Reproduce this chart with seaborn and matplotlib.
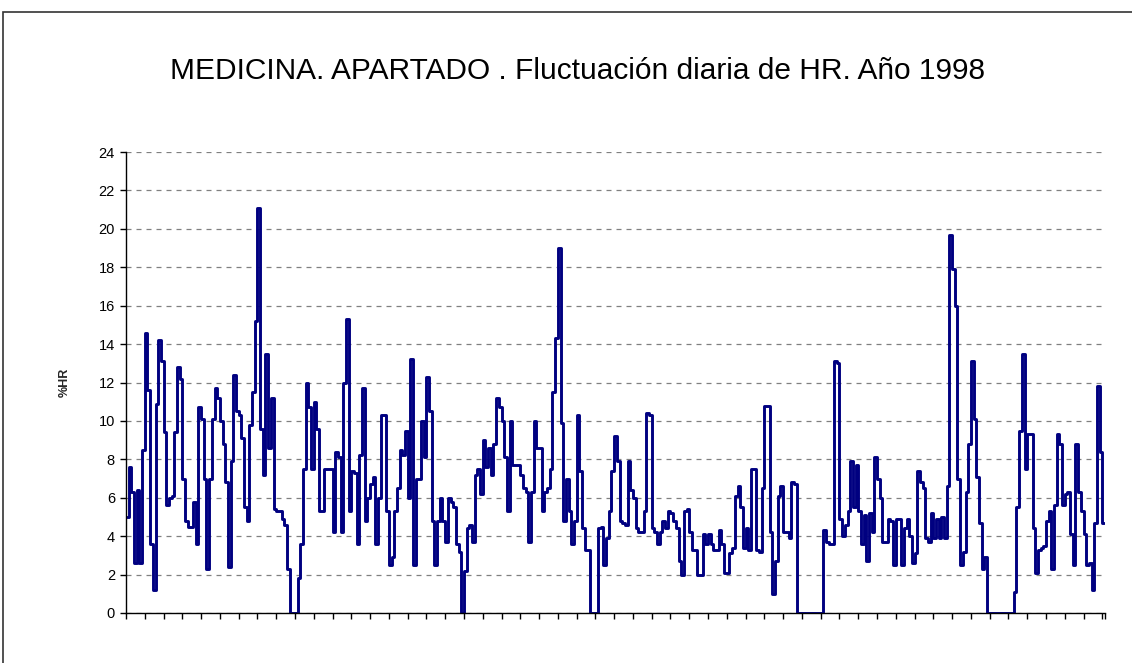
import numpy as np
import pandas as pd
import matplotlib
matplotlib.use("Agg")
import matplotlib.pyplot as plt
import seaborn as sns
from matplotlib.patches import Rectangle

# Daily values of zHR, 1998
hr_seg1 = [5.0, 7.6, 6.3, 2.6, 6.4, 2.6, 8.5, 14.6, 11.6, 3.6,
           1.2, 10.9, 14.2, 13.1, 9.4, 5.6, 6.0, 6.1, 9.4, 12.8,
           12.2, 7.0, 4.8, 4.5, 4.5, 5.8, 3.6, 10.7, 10.1, 7.0,
           2.3, 7.0, 10.1, 11.7, 11.2, 10.0, 8.8, 6.8, 2.4, 7.9,
           12.4, 10.5, 10.3, 9.1, 5.5, 4.8, 9.8, 11.5, 15.2, 21.1,
           9.6, 7.2, 13.5, 8.6, 11.2, 5.4, 5.3, 5.3, 4.9, 4.6,
           2.3, 0, 0, 0, 1.8, 3.6, 7.5, 12.0, 10.7, 7.5,
           11.0, 9.6]
hr_seg2 = [5.3, 5.3, 7.5, 7.5, 7.5, 4.2, 8.4, 8.1, 4.2, 12.0,
           15.3, 5.3, 7.4, 7.3, 3.6, 8.2, 11.7, 4.8, 6.0, 6.7,
           7.1, 3.6, 6.0, 10.3, 10.3, 5.3, 2.5, 2.9, 5.3, 6.5,
           8.5, 8.2, 9.5, 6.0, 13.2, 2.5, 7.0, 7.0, 10.0, 8.1,
           12.3, 10.5, 4.8, 2.5, 4.8, 6.0, 4.8, 3.7, 6.0, 5.8,
           5.5, 3.6, 3.2, 0, 2.2, 4.4, 4.6, 3.7, 7.2, 7.5,
           6.2, 9.0, 7.6, 8.6, 7.2, 8.8, 11.2, 10.7, 10.0, 8.1,
           5.3, 10.0, 7.7]
hr_seg3 = [7.7, 7.7, 7.2, 6.5, 6.3, 3.7, 6.3, 10.0, 8.6, 8.6,
           5.3, 6.3, 6.5, 7.5, 11.5, 14.3, 19.0, 9.9, 4.8, 7.0,
           5.3, 3.6, 4.8, 10.3, 7.4, 4.4, 3.3, 3.3, 0, 0,
           0, 4.4, 4.5, 2.5, 3.9, 5.3, 7.4, 9.2, 7.9, 4.8,
           4.7, 4.6, 7.9, 6.4, 6.0, 4.4, 4.2, 4.2, 5.3, 10.4,
           10.3, 4.4, 4.2, 3.6, 4.2, 4.8, 4.4, 5.3, 5.2, 4.8,
           4.4, 2.7, 2.0, 5.3, 5.4, 4.2, 3.3, 3.3, 2.0, 2.0,
           4.1, 3.6]
hr_seg4 = [4.1, 3.6, 3.3, 3.3, 4.3, 3.6, 2.1, 2.1, 3.1, 3.4,
           6.1, 6.6, 5.5, 3.4, 4.4, 3.3, 7.5, 7.5, 3.3, 3.2,
           6.5, 10.8, 10.8, 4.2, 1.0, 2.7, 6.1, 6.6, 4.2, 4.2,
           3.9, 6.8, 6.7, 0, 0, 0, 0, 0, 0, 0,
           0, 0, 0, 4.3, 3.7, 3.6, 3.6, 13.1, 13.0, 4.9,
           4.0, 4.6, 5.3, 7.9, 5.5, 7.7, 5.3, 3.6, 5.1, 2.7,
           5.2, 4.2, 8.1, 7.0, 6.0, 3.7, 3.7, 4.9, 4.8, 2.5,
           4.9, 4.9, 2.5, 4.4]
hr_seg5 = [4.9, 4.0, 2.6, 3.1, 7.4, 6.8, 6.5, 3.9, 3.7, 5.2,
           3.9, 4.9, 3.9, 5.0, 3.9, 6.6, 19.7, 17.9, 16.0, 7.0,
           2.5, 3.2, 6.3, 8.8, 13.1, 10.1, 7.1, 4.7, 2.3, 2.9,
           0, 0, 0, 0, 0, 0, 0, 0, 0, 0,
           1.1, 5.5, 9.5, 13.5, 7.5, 9.3, 9.3, 4.4, 2.1, 3.3,
           3.4, 3.5, 4.8, 5.3, 2.3, 5.6, 9.3, 8.8, 5.6, 6.2,
           6.3, 4.1, 2.5, 8.8, 6.3, 5.3, 4.1, 2.5, 2.6, 1.2,
           4.7, 11.8, 8.4, 4.7]

y_ticks = [0, 2, 4, 6, 8, 10, 12, 14, 16, 18, 20, 22, 24]
title_text = "MEDICINA. APARTADO . Fluctuación diaria de HR. Año 1998"
ylabel_text = "%HR"

values = hr_seg1 + hr_seg2 + hr_seg3 + hr_seg4 + hr_seg5
df = pd.DataFrame({"dia": np.arange(len(values)), "hr": values})

sns.set_theme(style="white")
plt.rcParams["font.family"] = ["Liberation Sans", "DejaVu Sans"]

W, H = 1132, 663
fig = plt.figure(figsize=(W / 100, H / 100), dpi=100)
fig.patch.set_facecolor("white")

# outer chart border
fig.patches.append(Rectangle((3 / W, -0.05), 1.2, 1 - 12 / H + 0.05,
                             transform=fig.transFigure, fill=False,
                             edgecolor="#333333", linewidth=1.2))

ax = fig.add_axes([126 / W, 1 - 613 / H, (1105 - 126) / W, (613 - 152) / H])
ax.set_facecolor("white")

sns.lineplot(data=df, x="dia", y="hr", ax=ax, color="#000080",
             linewidth=2.1, legend=False, drawstyle="steps-mid")

n = len(values)
ax.set_xlim(-0.5, n - 0.5)
ax.set_ylim(0, 24)
ax.set_yticks(y_ticks)
ax.set_yticklabels([str(t) for t in y_ticks], fontsize=10.5, color="black")
xt = list(np.arange(-0.5, n - 0.5, 7)) + [n - 0.5]
ax.set_xticks(xt)
ax.set_xticklabels([])
ax.tick_params(axis="x", direction="out", length=4, width=1, color="black", bottom=True)
ax.tick_params(axis="y", direction="out", length=4, width=1, color="black", left=True, pad=4)

ax.yaxis.grid(True, linestyle=(0, (4, 4)), color="#808080", linewidth=0.9)
ax.xaxis.grid(False)
for s in ["top", "right"]:
    ax.spines[s].set_visible(False)
for s in ["left", "bottom"]:
    ax.spines[s].set_color("black")
    ax.spines[s].set_linewidth(1.0)

ax.set_xlabel("")
ax.set_ylabel(ylabel_text, fontsize=9, fontweight="bold", labelpad=20)

fig.text(577 / W, 1 - 71 / H, title_text, ha="center", va="center",
         fontsize=21.5, color="black")

fig.savefig("out.png", dpi=100, facecolor="white")
